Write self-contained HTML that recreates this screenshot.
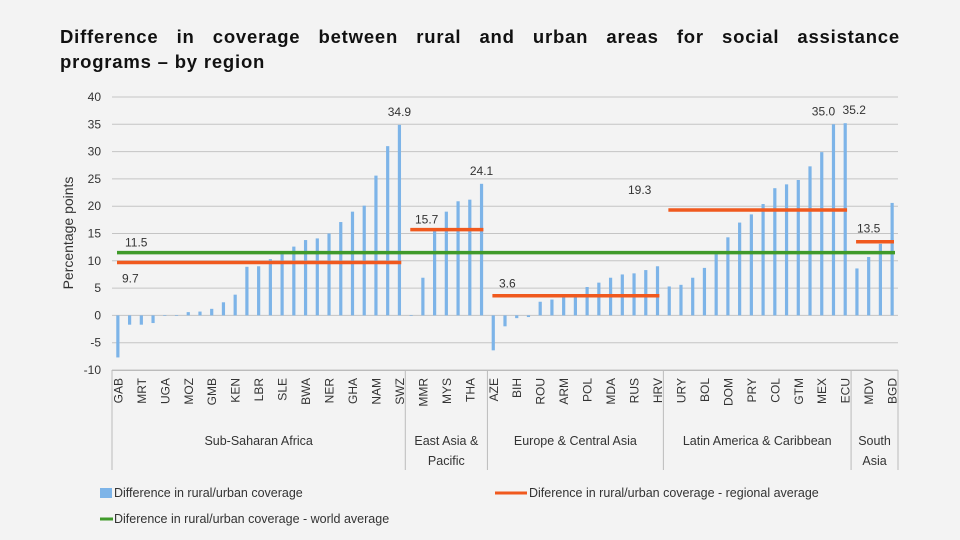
<!DOCTYPE html>
<html><head><meta charset="utf-8">
<style>
html,body{margin:0;padding:0;background:#f3f3f3;}
body{width:960px;height:540px;overflow:hidden;font-family:"Liberation Sans",sans-serif;}
.title{position:absolute;left:60px;top:24px;width:840px;font-weight:bold;font-size:18.5px;line-height:25px;color:#111;letter-spacing:0.8px;}
.l1{display:block;text-align:justify;text-align-last:justify;}
</style></head>
<body>
<div class="title"><span class="l1">Difference in coverage between rural and urban areas for social assistance</span>programs – by region</div>
<svg id="chart" width="960" height="540" style="position:absolute;left:0;top:0"></svg>
<script>
const regions = ["Sub-Saharan Africa","East Asia & Pacific","Europe & Central Asia","Latin America & Caribbean","South Asia"];
const regionCounts = [25,7,15,16,4];
const regionAvg = [9.7,15.7,3.6,19.3,13.5];
const worldAvg = 11.5;
const categories = ["GAB","","MRT","","UGA","","MOZ","","GMB","","KEN","","LBR","","SLE","","BWA","","NER","","GHA","","NAM","","SWZ",
"","MMR","","MYS","","THA","",
"AZE","","BIH","","ROU","","ARM","","POL","","MDA","","RUS","","HRV",
"","URY","","BOL","","DOM","","PRY","","COL","","GTM","","MEX","","ECU",
"","MDV","","BGD"];
const values = [-7.7,-1.7,-1.7,-1.4,0,0,0.6,0.7,1.2,2.4,3.8,8.9,9.0,10.3,11.2,12.6,13.8,14.1,15.0,17.1,19.0,20.1,25.6,31.0,34.9,
-0.1,6.9,15.6,19.0,20.9,21.2,24.1,
-6.4,-2.0,-0.5,-0.3,2.5,2.9,3.3,3.3,5.2,6.0,6.9,7.5,7.7,8.3,9.0,
5.3,5.6,6.9,8.7,11.2,14.3,17.0,18.5,20.4,23.3,24.0,24.8,27.3,29.9,35.0,35.2,
8.6,10.7,13.1,20.6];
const labeledBars = [24,31,61,62];
const yTicks = [-10,-5,0,5,10,15,20,25,30,35,40];

const svg = document.getElementById('chart');
const NS = "http://www.w3.org/2000/svg";
const X0=112, X1=898, YTOP=97, YBOT=370, YMIN=-10, YMAX=40;
const n = values.length;
const bw = (X1-X0)/n;
function xs(i){return X0+bw*(i+0.5);}
function ys(v){return YBOT-(v-YMIN)/(YMAX-YMIN)*(YBOT-YTOP);}
function mk(tag,attrs,parent){const e=document.createElementNS(NS,tag);for(const k in attrs)e.setAttribute(k,attrs[k]);(parent||svg).appendChild(e);return e;}
function txt(x,y,s,attrs){const e=mk('text',Object.assign({x:x,y:y,'font-family':'Liberation Sans, sans-serif','font-size':12,fill:'#333'},attrs||{}));e.textContent=s;return e;}

yTicks.forEach(t=>{
  const g=mk('line',{x1:X0,x2:X1,y1:ys(t),y2:ys(t),stroke:'#c4c4c4','stroke-width':1});
  
  
  const l=txt(101,ys(t)+4,String(t),{'text-anchor':'end'});
  
  
});
const yt=txt(0,0,'Percentage points',{'font-size':14,'text-anchor':'middle',transform:'translate(73,233) rotate(-90)'});



values.forEach((v,i)=>{
  const y1=ys(Math.max(v,0)), y2=ys(Math.min(v,0));
  const b=mk('rect',{x:xs(i)-1.6,y:y1,width:3.2,height:Math.max(y2-y1,0.6),fill:'#7db4e8'});
  
  
  if(categories[i]){
    const l=txt(0,0,categories[i],{'font-size':12,'text-anchor':'end',transform:'translate('+(xs(i)+4.5)+',378) rotate(-90)'});
    
    
  }
});
labeledBars.forEach((i,k)=>{
  const dx = (k===2)?-10:(k===3?9:0);
  const l=txt(xs(i)+dx,ys(values[i])-9,values[i].toFixed(1),{'text-anchor':'middle'});
  
  
});

const ab=mk('line',{x1:X0,x2:X1,y1:YBOT+0.5,y2:YBOT+0.5,stroke:'#bbb'});



let start=0;
const sepX=[X0];
regionCounts.forEach(c=>{start+=c;sepX.push(X0+bw*start);});
sepX.forEach(x=>{
  const s=mk('line',{x1:x,x2:x,y1:YBOT,y2:470,stroke:'#bbb'});
  
  
});
start=0;
regions.forEach((r,k)=>{
  const a=X0+bw*start, b=X0+bw*(start+regionCounts[k]);
  const cx=(a+b)/2;
  const wrap = (b-a)<100;
  if(wrap){
    const parts = r==="South Asia"?["South","Asia"]:["East Asia &","Pacific"];
    parts.forEach((p,j)=>{const l=txt(cx,445+j*20,p,{'text-anchor':'middle','font-size':12.5});
      
      });
  } else {
    const l=txt(cx,445,r,{'text-anchor':'middle','font-size':12.5});
    
    
  }
  const ln=mk('line',{x1:a+5,x2:b-4,y1:ys(regionAvg[k]),y2:ys(regionAvg[k]),stroke:'#f0591e','stroke-width':3.5});
  
  
  start+=regionCounts[k];
});
const w=mk('line',{x1:X0+5,x2:X1-3,y1:ys(worldAvg),y2:ys(worldAvg),stroke:'#3f9a2a','stroke-width':3.5});



const avgLabelPos=[[122,ys(regionAvg[0])+20],[415,ys(regionAvg[1])-6],[499,ys(regionAvg[2])-8],[628,ys(regionAvg[3])-16],[857,ys(regionAvg[4])-9]];
regionAvg.forEach((v,k)=>{
  const l=txt(avgLabelPos[k][0],avgLabelPos[k][1],v.toFixed(1),{});
  
  
});
const wl=txt(125,ys(worldAvg)-6,worldAvg.toFixed(1),{});



const lg1=mk('rect',{x:100,y:488,width:12,height:10,fill:'#7db4e8'});


const lt1=txt(114,497,'Difference in rural/urban coverage',{'font-size':12.5});


const lg2=mk('line',{x1:495,x2:527,y1:493,y2:493,stroke:'#f0591e','stroke-width':3});


const lt2=txt(529,497,'Diference in rural/urban coverage - regional average',{'font-size':12.5});


const lg3=mk('line',{x1:100,x2:113,y1:519,y2:519,stroke:'#3f9a2a','stroke-width':3});


const lt3=txt(114,523,'Diference in rural/urban coverage - world average',{'font-size':12.5});


</script>
</body></html>
